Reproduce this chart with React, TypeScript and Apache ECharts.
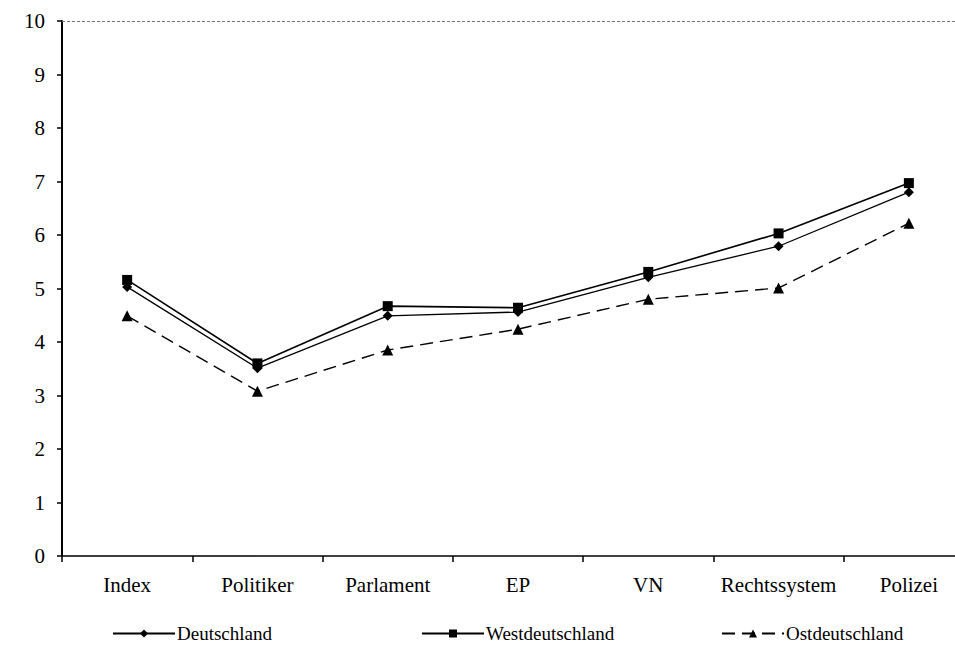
import React, { useEffect, useRef } from "react";
import * as echarts from "echarts";

const categories = ["Index", "Politiker", "Parlament", "EP", "VN", "Rechtssystem", "Polizei"];
const deutschland = [5.03, 3.51, 4.49, 4.56, 5.21, 5.79, 6.8];
const westdeutschland = [5.16, 3.6, 4.67, 4.64, 5.31, 6.03, 6.97];
const ostdeutschland = [4.49, 3.08, 3.85, 4.24, 4.8, 5.01, 6.22];
const seriesNames = ["Deutschland", "Westdeutschland", "Ostdeutschland"];

const FONT = '"Liberation Serif", "Times New Roman", serif';

export default function App() {
  const ref = useRef<HTMLDivElement>(null);
  useEffect(() => {
    if (!ref.current) return;
    const chart = echarts.init(ref.current, undefined, { renderer: "svg" });
    const legendCommon = {
      orient: "horizontal" as const,
      top: 624,
      padding: 0,
      itemWidth: 62,
      itemHeight: 10,
      itemGap: 4,
      textStyle: { fontFamily: FONT, fontSize: 19, color: "#000", padding: [0, 0, 0, -3] },
    };
    chart.setOption({
      animation: false,
      backgroundColor: "#fff",
      textStyle: { fontFamily: FONT },
      grid: { left: 62, top: 21, width: 912, height: 535, containLabel: false },
      legend: [
        { ...legendCommon, left: 112, data: [seriesNames[0]] },
        { ...legendCommon, left: 421, data: [seriesNames[1]] },
        { ...legendCommon, left: 721, data: [seriesNames[2]] },
      ],
      xAxis: {
        type: "category",
        data: categories,
        boundaryGap: true,
        axisLine: { show: true, lineStyle: { color: "#000", width: 1.5 } },
        axisTick: { show: true, interval: 0, length: 6, lineStyle: { color: "#000", width: 1.5 } },
        axisLabel: { interval: 0, color: "#000", fontFamily: FONT, fontSize: 21, margin: 18 },
        splitLine: { show: false },
      },
      yAxis: {
        type: "value",
        min: 0,
        max: 10,
        interval: 1,
        axisLine: { show: true, lineStyle: { color: "#000", width: 2 } },
        axisTick: { show: true, length: 5, lineStyle: { color: "#000", width: 1.5 } },
        axisLabel: { color: "#000", fontFamily: FONT, fontSize: 21, margin: 17 },
        splitLine: { show: false },
      },
      series: [
        {
          name: seriesNames[0],
          type: "line",
          data: deutschland,
          symbol: "diamond",
          symbolSize: 10,
          itemStyle: { color: "#000" },
          lineStyle: { color: "#000", width: 1.3, type: "solid" },
          markLine: {
            silent: true,
            symbol: "none",
            label: { show: false },
            lineStyle: { color: "#777", width: 1.2, type: [3, 2] },
            data: [{ yAxis: 10 }],
          },
        },
        {
          name: seriesNames[1],
          type: "line",
          data: westdeutschland,
          symbol: "rect",
          symbolSize: 10,
          itemStyle: { color: "#000" },
          lineStyle: { color: "#000", width: 1.6, type: "solid" },
        },
        {
          name: seriesNames[2],
          type: "line",
          data: ostdeutschland,
          symbol: "triangle",
          symbolSize: 11,
          itemStyle: { color: "#000" },
          lineStyle: { color: "#000", width: 1.4, type: [13, 7] },
        },
      ],
    });
    return () => chart.dispose();
  }, []);
  return (
    <div
      style={{ position: "absolute", left: 0, top: 0, width: 955, height: 645, overflow: "hidden", background: "#fff" }}
    >
      <div ref={ref} style={{ width: 990, height: 645 }} />
    </div>
  );
}
